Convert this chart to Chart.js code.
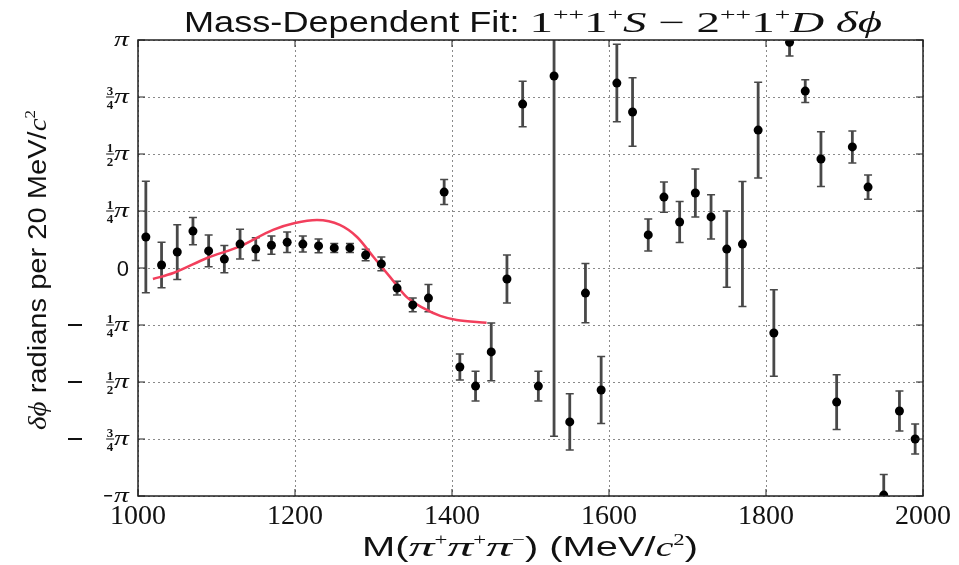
<!DOCTYPE html>
<html>
<head>
<meta charset="utf-8">
<script src="https://cdn.jsdelivr.net/npm/chart.js@4.4.1/dist/chart.umd.min.js"></script>
<style>
  html, body { margin: 0; padding: 0; background: #fff; }
  #wrap { width: 959px; height: 565px; }
</style>
</head>
<body>
<div id="wrap"><canvas id="phaseChart" width="959" height="565"></canvas></div>
<script>
// Mass bins (MeV/c^2), phase difference and error in units of pi
const massBins = [1010, 1030, 1050, 1070, 1090, 1110, 1130, 1150, 1170, 1190,
  1210, 1230, 1250, 1270, 1290, 1310, 1330, 1350, 1370, 1390,
  1410, 1430, 1450, 1470, 1490, 1510, 1530, 1550, 1570, 1590,
  1610, 1630, 1650, 1670, 1690, 1710, 1730, 1750, 1770, 1790,
  1810, 1830, 1850, 1870, 1890, 1910, 1930, 1950, 1970, 1990];
const phaseDiff = [0.136, 0.013, 0.07, 0.162, 0.075, 0.039, 0.105, 0.083, 0.10, 0.113,
  0.105, 0.097, 0.088, 0.088, 0.057, 0.018, -0.088, -0.162, -0.132, 0.333,
  -0.434, -0.518, -0.368, -0.048, 0.719, -0.518, 0.842, -0.675, -0.11, -0.535,
  0.811, 0.684, 0.145, 0.311, 0.202, 0.329, 0.224, 0.083, 0.105, 0.605,
  -0.285, 0.99, 0.776, 0.478, -0.588, 0.531, 0.355, -0.996, -0.627, -0.75];
const phaseErr = [0.245, 0.10, 0.12, 0.06, 0.07, 0.06, 0.065, 0.05, 0.04, 0.045,
  0.035, 0.03, 0.02, 0.02, 0.025, 0.03, 0.03, 0.03, 0.06, 0.055,
  0.057, 0.065, 0.127, 0.105, 0.10, 0.065, 1.58, 0.123, 0.13, 0.147,
  0.17, 0.15, 0.07, 0.066, 0.09, 0.105, 0.097, 0.167, 0.274, 0.21,
  0.19, 0.06, 0.05, 0.12, 0.12, 0.07, 0.053, 0.09, 0.088, 0.066];

// Mass-dependent fit curve
const fitMass = [1019, 1045, 1088, 1130, 1172, 1200, 1228, 1257, 1279, 1300,
  1321, 1342, 1363, 1385, 1406, 1444];
const fitPhase = [-0.048, -0.022, 0.044, 0.095, 0.167, 0.197, 0.21, 0.189, 0.136, 0.048,
  -0.039, -0.127, -0.175, -0.21, -0.228, -0.24];

const xTicks = [1000, 1200, 1400, 1600, 1800, 2000];
const yTicks = [-1, -0.75, -0.5, -0.25, 0, 0.25, 0.5, 0.75, 1];
const yTickLabels = ['-π', '-3/4π', '-1/2π', '-1/4π', '0', '1/4π', '1/2π', '3/4π', 'π'];

const SANS = '"Liberation Sans", Arial, sans-serif';
const SERIF = '"Liberation Serif", "Times New Roman", serif';

// segs: [text, font, dy, sx]; width = target width (stretches horizontally)
function drawRich(ctx, segs, x, y, width) {
  let w = 0;
  segs.forEach(s => { ctx.font = s[1]; w += ctx.measureText(s[0]).width * (s[3] || 1); });
  const k = width ? width / w : 1;
  ctx.save();
  ctx.translate(x - (w * k) / 2, y);
  ctx.scale(k, 1);
  ctx.textAlign = 'left';
  let cx = 0;
  segs.forEach(s => {
    const sx = s[3] || 1;
    ctx.font = s[1];
    ctx.save();
    ctx.translate(cx, s[2] || 0);
    ctx.scale(sx, 1);
    ctx.fillText(s[0], 0, 0);
    ctx.restore();
    cx += ctx.measureText(s[0]).width * sx;
  });
  ctx.restore();
}

const errorBars = {
  id: 'errorBars',
  beforeDatasetsDraw(chart) {
    const { ctx, chartArea: a, scales: { x, y } } = chart;
    ctx.save();
    ctx.beginPath();
    ctx.rect(a.left, a.top, a.right - a.left, a.bottom - a.top);
    ctx.clip();
    ctx.strokeStyle = '#484848';
    massBins.forEach((m, i) => {
      const px = x.getPixelForValue(m);
      const hi = y.getPixelForValue(phaseDiff[i] + phaseErr[i]);
      const lo = y.getPixelForValue(phaseDiff[i] - phaseErr[i]);
      ctx.lineWidth = 2.8;
      ctx.beginPath();
      ctx.moveTo(px, hi); ctx.lineTo(px, lo);
      ctx.stroke();
      ctx.lineWidth = 1.5;
      ctx.beginPath();
      ctx.moveTo(px - 4, hi); ctx.lineTo(px + 4, hi);
      ctx.moveTo(px - 4, lo); ctx.lineTo(px + 4, lo);
      ctx.stroke();
    });
    ctx.restore();
  }
};

const frameAndLabels = {
  id: 'frameAndLabels',
  afterDraw(chart) {
    const { ctx, chartArea: a, scales: { x, y } } = chart;
    ctx.save();
    // frame + ticks
    ctx.strokeStyle = '#222';
    ctx.lineWidth = 1.5;
    ctx.strokeRect(a.left, a.top, a.right - a.left, a.bottom - a.top);
    ctx.lineWidth = 1;
    ctx.beginPath();
    x.ticks.forEach(t => {
      const px = x.getPixelForValue(t.value);
      ctx.moveTo(px, a.bottom); ctx.lineTo(px, a.bottom - 7);
      ctx.moveTo(px, a.top); ctx.lineTo(px, a.top + 7);
    });
    y.ticks.forEach(t => {
      const py = y.getPixelForValue(t.value);
      ctx.moveTo(a.left, py); ctx.lineTo(a.left + 7, py);
      ctx.moveTo(a.right, py); ctx.lineTo(a.right - 7, py);
    });
    ctx.stroke();

    ctx.fillStyle = '#111';
    ctx.textBaseline = 'alphabetic';

    // x tick labels
    x.ticks.forEach(t => {
      ctx.font = '28px ' + SERIF;
      ctx.textAlign = 'center';
      ctx.fillText(String(t.value), x.getPixelForValue(t.value), 524);
    });

    // y tick labels as stacked fractions of pi
    const xr = 129;
    y.ticks.forEach((t, i) => {
      const py = y.getPixelForValue(t.value);
      const lab = yTickLabels[i];
      ctx.textAlign = 'right';
      if (lab === '0') {
        ctx.font = '22px ' + SANS;
        ctx.fillText('0', xr, py + 8);
        return;
      }
      const neg = lab.startsWith('-');
      const body = neg ? lab.slice(1) : lab;
      ctx.font = 'italic 22px ' + SERIF;
      ctx.save();
      ctx.translate(xr, py + 6);
      ctx.scale(1.35, 1);
      ctx.fillText('π', 0, 0);
      ctx.restore();
      const piW = ctx.measureText('π').width * 1.35;
      let left = xr - piW;
      if (body.includes('/')) {
        const [num, den] = body.replace('π', '').split('/');
        ctx.font = 'bold 13px ' + SERIF;
        ctx.textAlign = 'center';
        const fx = left - 4;
        ctx.fillText(num, fx, py - 2);
        ctx.fillText(den, fx, py + 12);
        ctx.fillRect(fx - 4, py - 0.5, 8, 1);
        if (neg) ctx.fillRect(68, py - 1, 14, 2);
      } else if (neg) {
        ctx.fillRect(left - 10, py - 1, 8, 1.5);
      }
    });

    // title
    const sup = '17px ' + SERIF;
    const ser = '29px ' + SERIF;
    const ital = 'italic 29px ' + SERIF;
    drawRich(ctx, [
      ['Mass-Dependent Fit: ', '29px ' + SANS, 0, 1],
      ['1', ser, 0, 1.3], ['++', sup, -12, 1.3], ['1', ser, 0, 1.3], ['+', sup, -12, 1.3], ['S', ital, 0, 1.3],
      [' − ', ser, 0, 1.3],
      ['2', ser, 0, 1.3], ['++', sup, -12, 1.3], ['1', ser, 0, 1.3], ['+', sup, -12, 1.3], ['D', ital, 0, 1.3],
      [' δϕ', ital, 0, 1.3]
    ], 533, 32, 698);

    // x axis title
    const xs = '28px ' + SANS;
    const xi = 'italic 28px ' + SERIF;
    const xsup = '16px ' + SERIF;
    drawRich(ctx, [
      ['M(', xs], ['π', xi, 0, 1.3], ['+', xsup, -11], ['π', xi, 0, 1.3], ['+', xsup, -11],
      ['π', xi, 0, 1.3], ['−', xsup, -11], [') (MeV/', xs], ['c', xi], ['2', xsup, -11], [')', xs]
    ], 530, 556, 336);

    // y axis title
    ctx.save();
    ctx.translate(46, 270);
    ctx.rotate(-Math.PI / 2);
    const ys = '26px ' + SANS;
    drawRich(ctx, [
      ['δϕ', 'italic 26px ' + SERIF], [' radians per 20 MeV/', ys],
      ['c', 'italic 26px ' + SERIF], ['2', '15px ' + SERIF, -11]
    ], 0, 0, 320);
    ctx.restore();

    ctx.restore();
  }
};

const ctx = document.getElementById('phaseChart').getContext('2d');
const chart = new Chart(ctx, {
  type: 'scatter',
  data: {
    datasets: [
      {
        label: 'Mass-dependent fit',
        type: 'line',
        data: fitMass.map((m, i) => ({ x: m, y: fitPhase[i] })),
        borderColor: '#f23f5c',
        borderWidth: 2.5,
        pointRadius: 0,
        cubicInterpolationMode: 'monotone',
        fill: false,
        order: 2
      },
      {
        label: 'Data',
        data: massBins.map((m, i) => ({ x: m, y: phaseDiff[i] })),
        backgroundColor: '#000',
        borderWidth: 0,
        pointRadius: 4.5,
        clip: 0,
        order: 1
      }
    ]
  },
  options: {
    responsive: false,
    animation: false,
    events: [],
    layout: { padding: { left: 138, top: 40, right: 36, bottom: 69 } },
    scales: {
      x: {
        type: 'linear', min: 1000, max: 2000,
        afterBuildTicks: s => { s.ticks = xTicks.map(v => ({ value: v })); },
        afterFit: s => { s.height = 0; },
        ticks: { display: false },
        grid: { color: '#8a8a8a', lineWidth: 1, drawTicks: false },
        border: { display: false, dash: [2, 3] }
      },
      y: {
        type: 'linear', min: -1, max: 1,
        afterBuildTicks: s => { s.ticks = yTicks.map(v => ({ value: v })); },
        afterFit: s => { s.width = 0; },
        ticks: { display: false },
        grid: { color: '#8a8a8a', lineWidth: 1, drawTicks: false },
        border: { display: false, dash: [2, 3] }
      }
    },
    plugins: {
      legend: { display: false },
      tooltip: { enabled: false }
    }
  },
  plugins: [errorBars, frameAndLabels]
});
</script>
</body>
</html>
